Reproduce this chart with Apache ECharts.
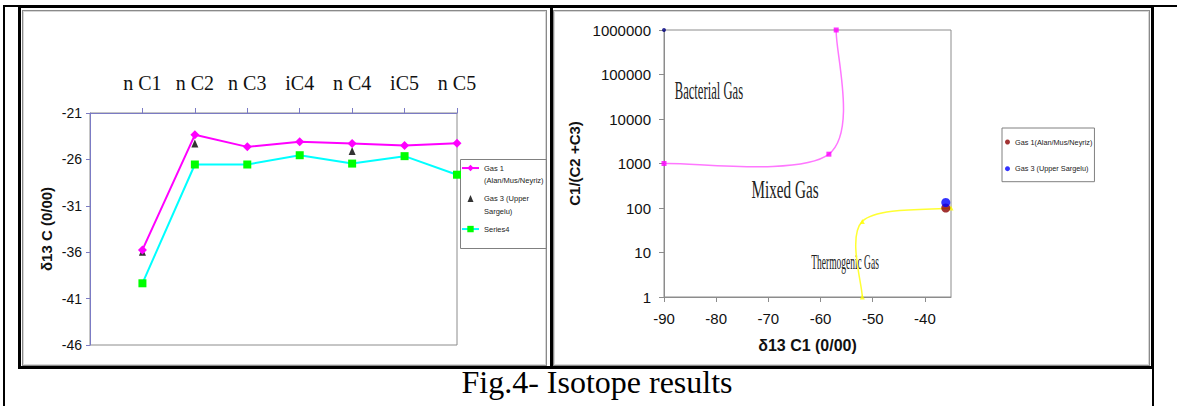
<!DOCTYPE html>
<html><head><meta charset="utf-8">
<script src="https://cdn.jsdelivr.net/npm/echarts@6/dist/echarts.min.js"></script>
<style>
html,body{margin:0;padding:0;background:#fff;}
body{width:1177px;height:406px;position:relative;overflow:hidden;}
.ln{position:absolute;background:#000;}
.cell{position:absolute;border:3px solid #000;box-sizing:border-box;}
.panel{position:absolute;border:1px solid #8a8a8a;box-shadow:inset 0 0 0 1px #d6d6d6;box-sizing:border-box;}
#cap{position:absolute;left:0;top:366px;width:1194px;text-align:center;font-family:"Liberation Serif",serif;font-size:32px;line-height:32px;color:#000;}
#chart{position:absolute;left:0;top:0;width:1177px;height:406px;}
</style></head>
<body>
<div class="ln" style="left:3px;top:5px;width:2px;height:401px"></div>
<div class="ln" style="left:3px;top:5px;width:1174px;height:2px"></div>
<div class="ln" style="left:1152px;top:5px;width:2px;height:401px"></div>
<div class="cell" style="left:18px;top:5px;width:535px;height:364px"></div>
<div class="cell" style="left:550px;top:5px;width:604px;height:364px"></div>
<div class="panel" style="left:22px;top:10px;width:525px;height:356px"></div>
<div class="panel" style="left:553px;top:10px;width:597px;height:356px"></div>
<div id="cap">Fig.4- Isotope results</div>
<div id="chart"></div>
<script>
// ---- Left chart data ----
const categories = ['n C1', 'n C2', 'n C3', 'iC4', 'n C4', 'iC5', 'n C5'];
const gas1Delta = [-35.75, -23.35, -24.65, -24.1, -24.3, -24.5, -24.25];
const gas3Delta = [-35.95, -24.3, null, null, -25.1, null, null];
const series4Delta = [-39.35, -26.55, -26.55, -25.55, -26.45, -25.65, -27.65];
const leftYTicks = [-46, -41, -36, -31, -26, -21];

// ---- Right chart data ----
const bacterialBoundary = [[-90, 1000], [-58.4, 1620], [-57, 1000000]];
const thermogenicBoundary = [[-35, 100], [-52, 50], [-52, 1]];
const originPoint = [[-90, 1000000]];
const gas1Point = [[-36, 100]];
const gas3Point = [[-36, 133]];
const rightXTicks = [-90, -80, -70, -60, -50, -40];
const rightYTicks = [1, 10, 100, 1000, 10000, 100000, 1000000];
const regionNames = ['Bacterial Gas', 'Mixed Gas', 'Thermogenic Gas'];
const regionX = [-81.4, -66.8, -55.3];
const regionY = [44700, 263, 6.2];

// ---- styles ----
const regionStyle = {
  'Bacterial Gas': {size: 25, sx: 0.505},
  'Mixed Gas': {size: 26, sx: 0.585},
  'Thermogenic Gas': {size: 22, sx: 0.43}
};
const sans = 'Liberation Sans';
const axisBlue = '#7b7bc4';
const grey = '#8c8c8c';

// Excel-like smoothed path through pixel points (Catmull-Rom, factor 1/6)
function smoothPath(pts) {
  let d = 'M' + pts[0][0] + ' ' + pts[0][1];
  for (let i = 0; i < pts.length - 1; i++) {
    const p0 = pts[Math.max(i - 1, 0)], p1 = pts[i], p2 = pts[i + 1], p3 = pts[Math.min(i + 2, pts.length - 1)];
    const c1 = [p1[0] + (p2[0] - p0[0]) / 6, p1[1] + (p2[1] - p0[1]) / 6];
    const c2 = [p2[0] - (p3[0] - p1[0]) / 6, p2[1] - (p3[1] - p1[1]) / 6];
    d += ' C' + c1[0] + ' ' + c1[1] + ' ' + c2[0] + ' ' + c2[1] + ' ' + p2[0] + ' ' + p2[1];
  }
  return d;
}
function curveSeries(name, data, color) {
  return {name: name, type: 'custom', xAxisIndex: 1, yAxisIndex: 1, data: data, silent: true,
    encode: {x: 0, y: 1},
    renderItem: (params, api) => {
      if (params.dataIndex !== 0) return null;
      const pts = data.map(p => api.coord(p));
      return {type: 'path', shape: {pathData: smoothPath(pts)},
        style: {fill: 'none', stroke: color, lineWidth: 1.5}};
    }};
}

const chart = echarts.init(document.getElementById('chart'), null, {renderer: 'svg'});
const xCat = [''].concat(categories);
const pad = a => [null].concat(a);

const option = {
  backgroundColor: 'transparent',
  animation: false,
  grid: [
    {left: 90, top: 113, width: 367, height: 232, show: true, borderColor: grey, borderWidth: 1, backgroundColor: 'transparent'},
    {left: 664, top: 30, width: 287, height: 267, show: true, borderColor: grey, borderWidth: 1, backgroundColor: 'transparent'}
  ],
  xAxis: [
    {gridIndex: 0, type: 'category', data: xCat, position: 'top', boundaryGap: false,
      axisLine: {onZero: false, lineStyle: {color: axisBlue, width: 1}},
      axisTick: {show: true, length: 5, interval: (i) => i > 0, lineStyle: {color: axisBlue}},
      axisLabel: {interval: 0, margin: 20, fontFamily: 'Liberation Serif', fontSize: 20, color: '#111'},
      splitLine: {show: false}},
    {gridIndex: 1, type: 'value', min: -90, max: -35, interval: 10,
      axisLine: {onZero: false, lineStyle: {color: grey}},
      axisTick: {show: true, length: 5, customValues: rightXTicks, lineStyle: {color: grey}},
      axisLabel: {customValues: rightXTicks, margin: 14, fontFamily: sans, fontSize: 15, color: '#111'},
      splitLine: {show: false},
      name: 'δ13 C1 (0/00)', nameLocation: 'middle', nameGap: 40,
      nameTextStyle: {fontFamily: sans, fontWeight: 'bold', fontSize: 16, color: '#111'}}
  ],
  yAxis: [
    {gridIndex: 0, type: 'value', min: -46, max: -21,
      axisLine: {show: true, onZero: false, lineStyle: {color: axisBlue}},
      axisTick: {show: true, length: 4, customValues: leftYTicks, lineStyle: {color: axisBlue}},
      axisLabel: {customValues: leftYTicks, margin: 8, fontFamily: sans, fontSize: 14, color: '#111'},
      splitLine: {show: false},
      name: 'δ13 C (0/00)', nameLocation: 'middle', nameGap: 36, nameRotate: 90,
      nameTextStyle: {fontFamily: sans, fontWeight: 'bold', fontSize: 15, color: '#111'}},
    {gridIndex: 1, type: 'log', logBase: 10, min: 1, max: 1000000, splitNumber: 6,
      axisLine: {show: true, onZero: false, lineStyle: {color: grey}},
      axisTick: {show: true, length: 5, customValues: rightYTicks, lineStyle: {color: grey}},
      axisLabel: {customValues: rightYTicks, margin: 13, fontFamily: sans, fontSize: 15, color: '#111',
        formatter: v => String(Math.round(v))},
      splitLine: {show: false},
      name: 'C1/(C2 +C3)', nameLocation: 'middle', nameGap: 82, nameRotate: 90,
      nameTextStyle: {fontFamily: sans, fontWeight: 'bold', fontSize: 15, color: '#111'}}
  ],
  legend: [
    {data: [
        {name: 'Gas 1\n(Alan/Mus/Neyriz)'},
        {name: 'Gas 3 (Upper\nSargelu)', icon: 'path://M0 0M17 8M5.5 7.5L8.5 0.5L11.5 7.5Z'},
        {name: 'Series4'}],
      orient: 'vertical', left: 461, top: 149, padding: 0, itemGap: -7.6, itemWidth: 17, itemHeight: 8,
      selectedMode: false,
      formatter: n => '\n' + n + (n === 'Series4' ? '\n' : ''),
      textStyle: {fontFamily: sans, fontSize: 7.5, lineHeight: 12.7, color: '#222'}},
    {data: ['Gas 1(Alan/Mus/Neyriz)', 'Gas 3 (Upper Sargelu)'],
      orient: 'vertical', left: 1002, top: 128, padding: [9, 2, 8, 3], itemGap: 16.7, itemWidth: 5, itemHeight: 5,
      selectedMode: false, borderColor: '#808080', borderWidth: 1, backgroundColor: '#fff',
      textStyle: {fontFamily: sans, fontSize: 7.3, lineHeight: 10, color: '#222'}}
  ],
  series: [
    {name: 'Gas 1\n(Alan/Mus/Neyriz)', type: 'line', xAxisIndex: 0, yAxisIndex: 0, data: pad(gas1Delta),
      symbol: 'diamond', symbolSize: 9, itemStyle: {color: '#ff00ff'}, lineStyle: {color: '#ff00ff', width: 2}},
    {name: 'Gas 3 (Upper\nSargelu)', type: 'scatter', xAxisIndex: 0, yAxisIndex: 0, data: pad(gas3Delta),
      symbol: 'triangle', symbolSize: [7, 8], itemStyle: {color: '#000'}},
    {name: 'Series4', type: 'line', xAxisIndex: 0, yAxisIndex: 0, data: pad(series4Delta),
      symbol: 'rect', symbolSize: 8, itemStyle: {color: '#00ff00'}, lineStyle: {color: '#00ffff', width: 2}},
    curveSeries('Bacterial boundary', bacterialBoundary, '#ff77ff'),
    curveSeries('Thermogenic boundary', thermogenicBoundary, '#ffff33'),
    {name: 'Bacterial boundary points', type: 'scatter', xAxisIndex: 1, yAxisIndex: 1, data: bacterialBoundary,
      symbol: 'rect', symbolSize: 5, itemStyle: {color: '#ff00ff'}},
    {name: 'Thermogenic boundary points', type: 'scatter', xAxisIndex: 1, yAxisIndex: 1, data: thermogenicBoundary,
      symbol: 'triangle', symbolSize: 5, itemStyle: {color: '#ffff00'}},
    {name: 'Origin', type: 'scatter', xAxisIndex: 1, yAxisIndex: 1, data: originPoint,
      symbolSize: 4, itemStyle: {color: '#000080'}},
    {name: 'Gas 1(Alan/Mus/Neyriz)', type: 'scatter', xAxisIndex: 1, yAxisIndex: 1, data: gas1Point,
      symbolSize: 9, itemStyle: {color: '#8b0000'}},
    {name: 'Gas 3 (Upper Sargelu)', type: 'scatter', xAxisIndex: 1, yAxisIndex: 1, data: gas3Point,
      symbolSize: 9, itemStyle: {color: '#0000ff'}}
  ]
};
chart.setOption(option);

const graphics = regionNames.map((name, i) => {
  const p = chart.convertToPixel({gridIndex: 1}, [regionX[i], regionY[i]]);
  const st = regionStyle[name];
  return {type: 'text', x: p[0], y: p[1], scaleX: st.sx, silent: true,
    style: {text: name, fontFamily: 'Liberation Serif', fontSize: st.size, fill: '#222', align: 'center', verticalAlign: 'middle'}};
});
graphics.push({type: 'rect', silent: true, shape: {x: 460.5, y: 159.5, width: 86, height: 89},
  style: {fill: 'none', stroke: '#808080', lineWidth: 1}});
chart.setOption({graphic: graphics});
</script>
</body></html>
